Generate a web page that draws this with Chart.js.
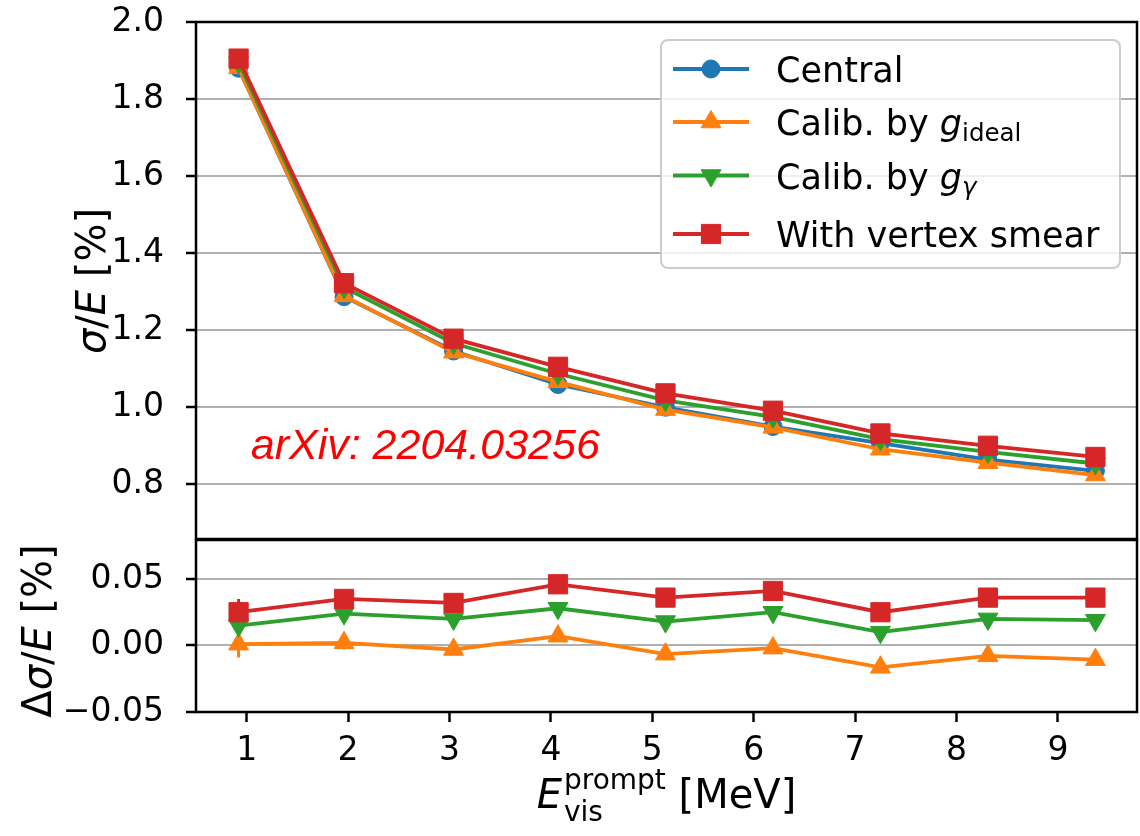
<!DOCTYPE html>
<html>
<head>
<meta charset="utf-8">
<title>Energy resolution</title>
<script src="https://cdn.jsdelivr.net/npm/chart.js@4.4.0/dist/chart.umd.min.js"></script>
<style>
  body { margin: 0; background: #fff; }
  #wrap { position: relative; width: 1140px; height: 836px; }
  #topChart { position: absolute; left: 0; top: 0; }
  #bottomChart { position: absolute; left: 0; top: 539px; }
</style>
</head>
<body>
<div id="wrap">
  <canvas id="topChart" width="1140" height="540"></canvas>
  <canvas id="bottomChart" width="1140" height="297"></canvas>
</div>
<script>
// visible prompt energy bin centres [MeV]
const energies = [0.92, 1.96, 3.04, 4.07, 5.13, 6.19, 7.25, 8.31, 9.37];

// resolution sigma/E [%]
const central     = [1.880, 1.287, 1.146, 1.059, 1.000, 0.950, 0.907, 0.864, 0.835];
const calibIdeal  = [1.881, 1.289, 1.143, 1.066, 0.994, 0.948, 0.891, 0.856, 0.824];
const calibGamma  = [1.895, 1.311, 1.166, 1.087, 1.018, 0.975, 0.917, 0.884, 0.854];
const vertexSmear = [1.905, 1.322, 1.178, 1.105, 1.036, 0.991, 0.932, 0.900, 0.871];

// difference to central [%] and its uncertainty
const diffIdeal = [0.001, 0.002, -0.003, 0.007, -0.0065, -0.002, -0.0164, -0.0078, -0.0107];
const diffGamma = [0.015, 0.024, 0.020, 0.028, 0.018, 0.025, 0.010, 0.020, 0.019];
const diffSmear = [0.025, 0.035, 0.032, 0.046, 0.036, 0.041, 0.025, 0.036, 0.036];
const diffErr   = [0.010, 0.005, 0.003, 0.003, 0.003, 0.003, 0.003, 0.003, 0.003];

// tick values
const energyTicks = [1, 2, 3, 4, 5, 6, 7, 8, 9];
const sigmaTicks  = [0.8, 1.0, 1.2, 1.4, 1.6, 1.8, 2.0];
const diffTicks   = [-0.05, 0.0, 0.05];

const BLUE = '#1f77b4', ORANGE = '#ff7f0e', GREEN = '#2ca02c', RED = '#d62728';
const FONT = "'DejaVu Sans'";

Chart.defaults.font.family = FONT;
Chart.defaults.font.size = 33;
Chart.defaults.color = '#000';

const series = [
  { label: 'Central', color: BLUE, style: 'circle', radius: 9, rotation: 0 },
  { label: 'Calib. by g_ideal', color: ORANGE, style: 'triangle', radius: 11.5, rotation: 0 },
  { label: 'Calib. by g_gamma', color: GREEN, style: 'triangle', radius: 11.5, rotation: 180 },
  { label: 'With vertex smear', color: RED, style: 'rect', radius: 13.6, rotation: 0 }
];

function pts(values) {
  return values.map((v, i) => ({ x: energies[i], y: v }));
}

function lineSet(s, values, order, errs) {
  return {
    label: s.label,
    data: pts(values),
    errors: errs,
    borderColor: s.color,
    backgroundColor: s.color,
    borderWidth: 3.8,
    pointStyle: s.style,
    pointRadius: s.radius,
    pointRotation: s.rotation,
    pointBackgroundColor: s.color,
    pointBorderColor: s.color,
    pointBorderWidth: 1,
    tension: 0,
    clip: false,
    order: order
  };
}

// draw a list of text pieces one after another
function textWidth(ctx, runs) {
  let w = 0;
  runs.forEach(r => {
    ctx.font = (r.italic ? 'italic ' : '') + r.size + 'px ' + (r.family || FONT);
    w += ctx.measureText(r.text).width;
  });
  return w;
}
function drawRuns(ctx, runs, x, y) {
  let cx = x;
  runs.forEach(r => {
    ctx.font = (r.italic ? 'italic ' : '') + r.size + 'px ' + (r.family || FONT);
    ctx.fillText(r.text, cx, y + (r.dy || 0));
    cx += ctx.measureText(r.text).width;
  });
  return cx;
}

function drawYTitle(ctx, runs, x, y) {
  ctx.save();
  ctx.translate(x, y);
  ctx.rotate(-Math.PI / 2);
  ctx.fillStyle = '#000';
  ctx.textBaseline = 'middle';
  const w = textWidth(ctx, runs);
  drawRuns(ctx, runs, -w / 2, 0);
  ctx.restore();
}

// no extra room for half labels at the ends of the y axis
function fitY(s) {
  s.width = 196;
  s.paddingTop = 0;
  s.paddingBottom = 0;
}

const framePlugin = {
  id: 'frame',
  afterDatasetsDraw(chart) {
    const { ctx, chartArea: a } = chart;
    ctx.save();
    ctx.strokeStyle = '#000';
    ctx.lineWidth = 2.5;
    ctx.strokeRect(a.left, a.top, a.right - a.left, a.bottom - a.top);
    ctx.restore();
  }
};

// vertical error bars under the markers
const errorBarPlugin = {
  id: 'errorBars',
  beforeDatasetsDraw(chart) {
    const { ctx, scales: { x, y } } = chart;
    ctx.save();
    ctx.lineWidth = 3;
    chart.data.datasets.forEach(ds => {
      if (!ds.errors) return;
      ctx.strokeStyle = ds.borderColor;
      ds.data.forEach((p, i) => {
        const px = x.getPixelForValue(p.x);
        ctx.beginPath();
        ctx.moveTo(px, y.getPixelForValue(p.y - ds.errors[i]));
        ctx.lineTo(px, y.getPixelForValue(p.y + ds.errors[i]));
        ctx.stroke();
      });
    });
    ctx.restore();
  }
};

const topDecor = {
  id: 'topDecor',
  afterDraw(chart) {
    const { ctx, scales: { x, y } } = chart;

    // y title
    drawYTitle(ctx, [
      { text: 'σ', size: 40, italic: true },
      { text: '/', size: 40 },
      { text: 'E', size: 40, italic: true },
      { text: ' [%]', size: 40 }
    ], 95, 281);

    // arXiv note
    ctx.save();
    ctx.fillStyle = '#ff0000';
    ctx.textBaseline = 'alphabetic';
    ctx.font = "italic 43px 'Liberation Sans'";
    ctx.fillText('arXiv: 2204.03256', x.getPixelForValue(1.04), y.getPixelForValue(0.866));
    ctx.restore();

    // legend
    ctx.save();
    const bx = 661, by = 40, bw = 459, bh = 228, r = 7;
    ctx.beginPath();
    ctx.roundRect(bx, by, bw, bh, r);
    ctx.fillStyle = 'rgba(255,255,255,0.8)';
    ctx.fill();
    ctx.strokeStyle = '#cccccc';
    ctx.lineWidth = 2;
    ctx.stroke();

    const rowsY = [69, 122, 175.5, 234];
    const labels = [
      [{ text: 'Central', size: 35 }],
      [{ text: 'Calib. by ', size: 35 }, { text: 'g', size: 35, italic: true }, { text: 'ideal', size: 24.5, dy: 6 }],
      [{ text: 'Calib. by ', size: 35 }, { text: 'g', size: 35, italic: true }, { text: 'γ', size: 24.5, italic: true, dy: 6 }],
      [{ text: 'With vertex smear', size: 35 }]
    ];
    series.forEach((s, i) => {
      const ly = rowsY[i];
      ctx.strokeStyle = s.color;
      ctx.fillStyle = s.color;
      ctx.lineWidth = 3.8;
      ctx.beginPath();
      ctx.moveTo(673, ly);
      ctx.lineTo(749, ly);
      ctx.stroke();
      ctx.lineWidth = 1;
      Chart.helpers.drawPoint(ctx, { pointStyle: s.style, radius: s.radius, rotation: s.rotation, borderWidth: 1 }, 711, ly);
      ctx.fillStyle = '#000';
      ctx.textBaseline = 'alphabetic';
      drawRuns(ctx, labels[i], 776, ly + 13);
    });
    ctx.restore();
  }
};

const bottomDecor = {
  id: 'bottomDecor',
  afterDraw(chart) {
    const { ctx, chartArea: a } = chart;

    drawYTitle(ctx, [
      { text: 'Δ', size: 40 },
      { text: 'σ', size: 40, italic: true },
      { text: '/', size: 40 },
      { text: 'E', size: 40, italic: true },
      { text: ' [%]', size: 40 }
    ], 41, 92);

    // x title: E_vis^prompt [MeV]
    ctx.save();
    ctx.fillStyle = '#000';
    ctx.textBaseline = 'alphabetic';
    const base = 269;
    ctx.font = 'italic 40px ' + FONT;
    const wE = ctx.measureText('E').width;
    ctx.font = '28px ' + FONT;
    const wSup = ctx.measureText('prompt').width;
    ctx.font = '40px ' + FONT;
    const wUnit = ctx.measureText(' [MeV]').width;
    const total = wE + 2 + wSup + wUnit;
    let cx = (a.left + a.right) / 2 - total / 2;
    ctx.font = 'italic 40px ' + FONT;
    ctx.fillText('E', cx, base);
    cx += wE + 2;
    ctx.font = '28px ' + FONT;
    ctx.fillText('prompt', cx, base - 19);
    ctx.fillText('vis', cx, base + 13);
    cx += wSup;
    ctx.font = '40px ' + FONT;
    ctx.fillText(' [MeV]', cx, base);
    ctx.restore();
  }
};

const yGrid = { color: '#b0b0b0', lineWidth: 2, tickColor: '#000', tickLength: 10, tickWidth: 2.5 };

new Chart(document.getElementById('topChart'), {
  type: 'line',
  data: {
    datasets: [
      lineSet(series[0], central, 3),
      lineSet(series[1], calibIdeal, 2),
      lineSet(series[2], calibGamma, 1),
      lineSet(series[3], vertexSmear, 0)
    ]
  },
  options: {
    responsive: false,
    animation: false,
    events: [],
    layout: { autoPadding: false, padding: { top: 22, right: 3, bottom: 1, left: 0 } },
    plugins: { legend: { display: false }, tooltip: { enabled: false } },
    scales: {
      x: { type: 'linear', min: 0.5, max: 9.78, display: false },
      y: {
        min: 0.658,
        max: 2.0,
        afterBuildTicks: s => { s.ticks = sigmaTicks.map(v => ({ value: v })); },
        afterFit: fitY,
        grid: yGrid,
        border: { display: false },
        ticks: { padding: 22, callback: v => v.toFixed(1) }
      }
    }
  },
  plugins: [framePlugin, topDecor]
});

new Chart(document.getElementById('bottomChart'), {
  type: 'line',
  data: {
    datasets: [
      lineSet(series[1], diffIdeal, 2, diffErr),
      lineSet(series[2], diffGamma, 1, diffErr),
      lineSet(series[3], diffSmear, 0, diffErr)
    ]
  },
  options: {
    responsive: false,
    animation: false,
    events: [],
    layout: { autoPadding: false, padding: { top: 1, right: 3, bottom: 0, left: 0 } },
    plugins: { legend: { display: false }, tooltip: { enabled: false } },
    scales: {
      x: {
        type: 'linear',
        min: 0.5,
        max: 9.78,
        afterBuildTicks: s => { s.ticks = energyTicks.map(v => ({ value: v })); },
        afterFit: s => { s.height = 124; },
        grid: { drawOnChartArea: false, tickColor: '#000', tickLength: 10, tickWidth: 2.5 },
        border: { display: false },
        ticks: { padding: 10, maxRotation: 0, autoSkip: false, callback: v => String(v) }
      },
      y: {
        min: -0.05,
        max: 0.0793,
        afterBuildTicks: s => { s.ticks = diffTicks.map(v => ({ value: v })); },
        afterFit: fitY,
        grid: yGrid,
        border: { display: false },
        ticks: { padding: 22, callback: v => (v < 0 ? '−' : '') + Math.abs(v).toFixed(2) }
      }
    }
  },
  plugins: [framePlugin, errorBarPlugin, bottomDecor]
});
</script>
</body>
</html>
